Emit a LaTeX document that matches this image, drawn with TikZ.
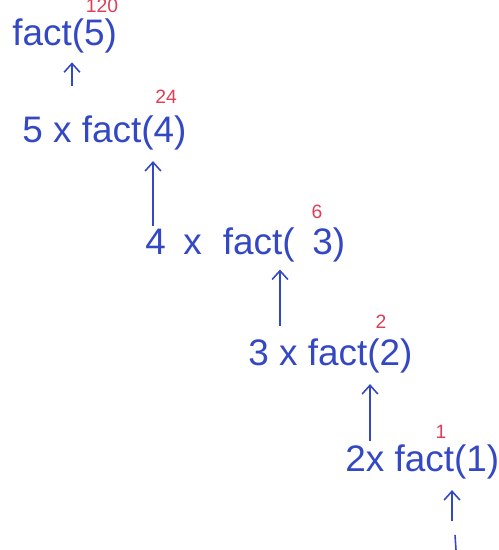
\documentclass[tikz,border=0pt]{standalone}
\usepackage{fontspec}
\setmainfont{Liberation Sans}
\usetikzlibrary{arrows.meta}
\definecolor{inkblue}{RGB}{52,72,196}
\definecolor{inkred}{RGB}{222,62,86}
\tikzset{
  call/.style={anchor=west, inner sep=0pt, text=inkblue, font=\fontsize{21}{24}\selectfont},
  result/.style={inner sep=0pt, text=inkred, font=\fontsize{11}{13}\selectfont},
  up/.style={draw=inkblue, line width=0.9pt, -{Straight Barb[length=5pt,width=9pt]}}
}
\begin{document}
\begin{tikzpicture}[x=0.02cm, y=-0.02cm]
    \useasboundingbox (0,0) rectangle (498,550);

    % recursive calls
    \node[call] (f5) at (12, 36) {fact(5)};
    \node[call] (f4) at (22, 133) {5 x fact(4)};
    \node[call] (f3) at (145, 245) {4\hspace{10pt}x\hspace{12pt}fact(\hspace{10pt}3)};
    \node[call] (f2) at (248, 356) {3 x fact(2)};
    \node[call] (f1) at (345, 462) {2x fact(1)};

    % returned values
    \node[result] (r5) at (102, 6) {120};
    \node[result] (r4) at (166, 97) {24};
    \node[result] (r3) at (317, 212) {6};
    \node[result] (r2) at (381, 322) {2};
    \node[result] (r1) at (441, 432) {1};

    % arrows back up
    \coordinate (t5) at (72, 86);
    \coordinate (t4) at (153, 226);
    \coordinate (t3) at (280, 326);
    \coordinate (t2) at (370, 441);
    \coordinate (t1) at (452, 521);
    \coordinate (t0) at (455, 535);
    \coordinate (b0) at (456, 550);

    \draw[up] (t5) -- ([yshift=-5pt]f5.south -| t5);
    \draw[up] (t4) -- ([yshift=-6pt]f4.south -| t4);
    \draw[up] (t3) -- ([yshift=-4pt]f3.south -| t3);
    \draw[up] (t2) -- ([yshift=-6pt]f2.south -| t2);
    \draw[up] (t1) -- ([yshift=-6pt]f1.south -| t1);
    \draw[draw=inkblue, line width=0.9pt] (t0) -- (b0);
\end{tikzpicture}
\end{document}
